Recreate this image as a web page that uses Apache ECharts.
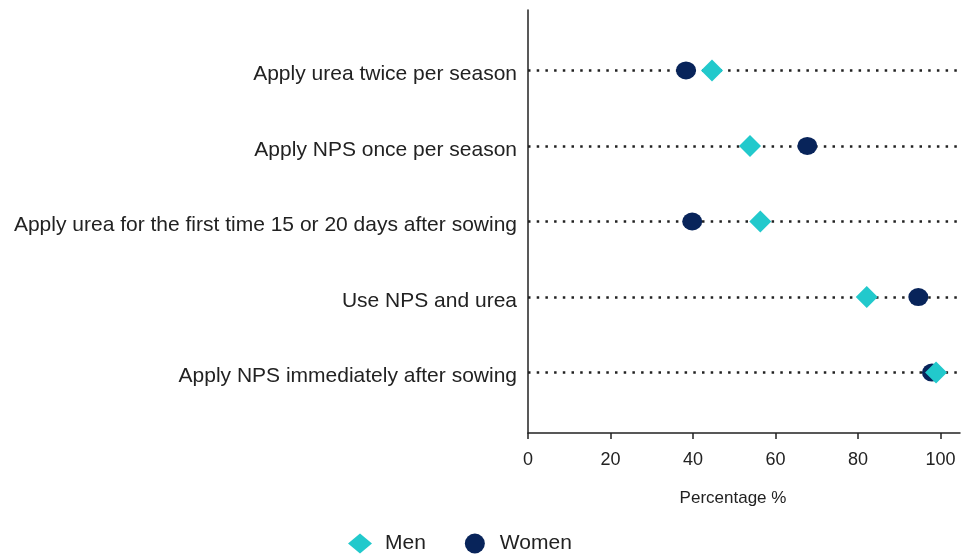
<!DOCTYPE html>
<html>
<head>
<meta charset="utf-8">
<script src="https://cdn.jsdelivr.net/npm/echarts@6/dist/echarts.min.js"></script>
<style>html,body{margin:0;padding:0;background:#fff}#c{width:961px;height:555px}</style>
</head>
<body>
<div id="c"></div>
<script>
var categories = [
  "Apply urea twice per season",
  "Apply NPS once per season",
  "Apply urea for the first time 15 or 20 days after sowing",
  "Use NPS and urea",
  "Apply NPS immediately after sowing"
];
var menValues = [44.6, 53.8, 56.3, 82.1, 98.9];
var womenValues = [38.3, 67.7, 39.8, 94.6, 97.9];
var xTicks = [0, 20, 40, 60, 80, 100];

var font = "'Liberation Sans', Arial, sans-serif";
var rowIdx = categories.map(function (c, i) { return i; });

var chart = echarts.init(document.getElementById('c'), null, {renderer: 'canvas'});
chart.setOption({
  animation: false,
  textStyle: {fontFamily: font},
  grid: {left: 528, right: 1, top: 10, bottom: 122, containLabel: false},
  xAxis: {
    type: 'value', min: 0, max: 104.7,
    axisLine: {show: true, onZero: false, lineStyle: {color: '#222', width: 1.5}},
    axisTick: {show: true, length: 6, lineStyle: {color: '#222', width: 1.5}, customValues: xTicks},
    axisLabel: {customValues: xTicks, color: '#222', fontSize: 18, fontFamily: font, margin: 18},
    splitLine: {show: false},
    name: 'Percentage %', nameLocation: 'middle', nameGap: 57,
    nameTextStyle: {color: '#222', fontSize: 17, fontFamily: font, padding: [0, 22, 0, 0]}
  },
  yAxis: {
    type: 'value', inverse: true, min: -0.8, max: 4.8,
    axisLine: {show: true, onZero: false, lineStyle: {color: '#222', width: 1.5}},
    axisTick: {show: false},
    axisLabel: {
      customValues: rowIdx, color: '#222', fontSize: 21, fontFamily: font, margin: 11,
      verticalAlign: 'top', lineHeight: 8,
      formatter: function (v) { return categories[Math.round(v)]; }
    },
    splitLine: {show: false}
  },
  legend: {
    top: 533, left: 348, padding: 0, itemGap: 39, itemWidth: 24, itemHeight: 20,
    textStyle: {color: '#222', fontSize: 21, fontFamily: font, padding: [0, 0, 0, 8]},
    data: [{name: 'Men', icon: 'diamond'}, {name: 'Women', icon: 'circle'}]
  },
  series: [
    {
      name: 'Men', type: 'scatter', symbol: 'diamond', symbolSize: 22, z: 5,
      itemStyle: {color: '#22C9CC', opacity: 1},
      data: menValues.map(function (v, i) { return [v, i]; })
    },
    {
      name: 'Women', type: 'scatter', symbol: 'circle', symbolSize: [20, 18], z: 3,
      itemStyle: {color: '#08245A', opacity: 1},
      data: womenValues.map(function (v, i) { return [v, i]; }),
      markLine: {
        silent: true, symbol: 'none', z: 1, label: {show: false},
        lineStyle: {color: '#222', width: 2.5, type: [2.5, 6.2]},
        data: rowIdx.map(function (i) { return {yAxis: i}; })
      }
    }
  ]
});
</script>
</body>
</html>
